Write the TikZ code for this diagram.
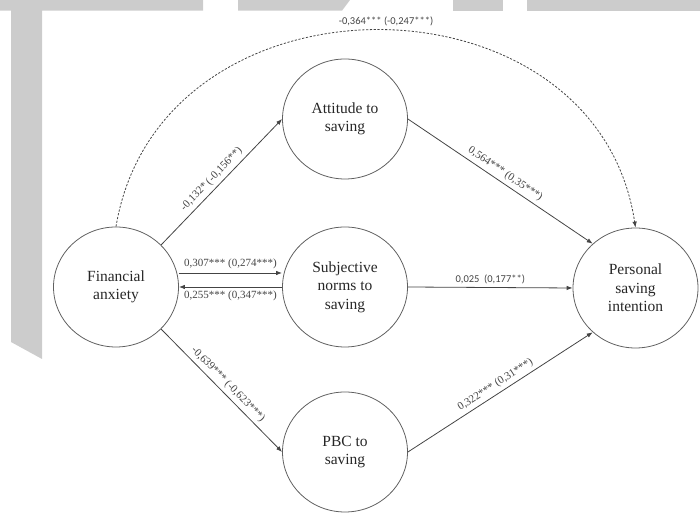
\documentclass[tikz,border=0pt]{standalone}
\usepackage{fontspec}
\setmainfont{Liberation Serif}
\newfontfamily\coefsans{Carlito}
\usetikzlibrary{shapes.geometric,arrows.meta}
\definecolor{bandgray}{RGB}{204,204,204}
\definecolor{inkgray}{RGB}{68,68,68}
\definecolor{rimgray}{RGB}{96,96,96}
\begin{document}
\begin{tikzpicture}[x=1pt,y=1pt,
  construct/.style={ellipse, draw=rimgray, line width=0.8pt, minimum width=125pt,
    minimum height=120pt, inner sep=0pt, align=center,
    font=\fontsize{15.5}{18.5}\selectfont, text=black!85},
  link/.style={draw=inkgray, line width=0.8pt, -{Latex[length=6pt,width=4.5pt]}},
  coef/.style={font=\fontsize{11}{13}\selectfont, text=inkgray, inner sep=3.5pt},
  coefsf/.style={coef, font=\coefsans\fontsize{10.5}{13}\selectfont},
  totaleffect/.style={draw=inkgray, line width=0.8pt, dash pattern=on 2.2pt off 1.6pt,
    -{Latex[length=6pt,width=4.5pt]}}]
\useasboundingbox (0,0) rectangle (700,518);

% grey header band with its left pillar
\fill[bandgray] (0,518) -- (203,518) -- (203,507.3) -- (42,507.3) -- (42,159)
  -- (11,176) -- (11,507.3) -- (0,507.3) -- cycle;
\fill[bandgray] (238,518) -- (350,518) -- (342,507.3) -- (238,507.3) -- cycle;
\fill[bandgray] (453,507.3) rectangle (503,518);
\fill[bandgray] (527,507.3) rectangle (700,518);

% constructs
\node[construct] (fa)  at (116,231)   {Financial\\anxiety};
\node[construct] (att) at (345,399)   {Attitude to\\saving};
\node[construct] (sn)  at (345,231)   {Subjective\\norms to\\saving};
\node[construct] (pbc) at (345,66)    {PBC to\\saving};
\node[construct] (pi)  at (635.5,230) {Personal\\saving\\intention};

% paths
\draw[link] (fa.43) -- node[coef, sloped, above, pos=0.47] {-0,132* (-0,156**)} (att.west);
\draw[link] (fa.-43) -- node[coef, sloped, above, pos=0.5] {-0,639*** (-0,623***)} (pbc.west);
\draw[link] ([yshift=14pt]fa.east) -- node[coef, above] {0,307*** (0,274***)} ([yshift=14pt]sn.west);
\draw[link] (sn.west) -- node[coef, below] {0,255*** (0,347***)} (fa.east);
\draw[link] (att.east) -- node[coef, sloped, above] {0,564*** (0,35***)} (pi.134);
\draw[link] (sn.east) -- node[coefsf, above] {0,025\ \ (0,177**)} (pi.west);
\draw[link] (pbc.east) -- node[coef, sloped, above] {0,322*** (0,31***)} (pi.-134);

% total effect
\draw[totaleffect] (fa.north) .. controls +(44,263) and +(-39.7,262) .. (pi.north);
\node[coefsf] (total) at (386,497) {-0,364*** (-0,247***)};
\end{tikzpicture}
\end{document}
